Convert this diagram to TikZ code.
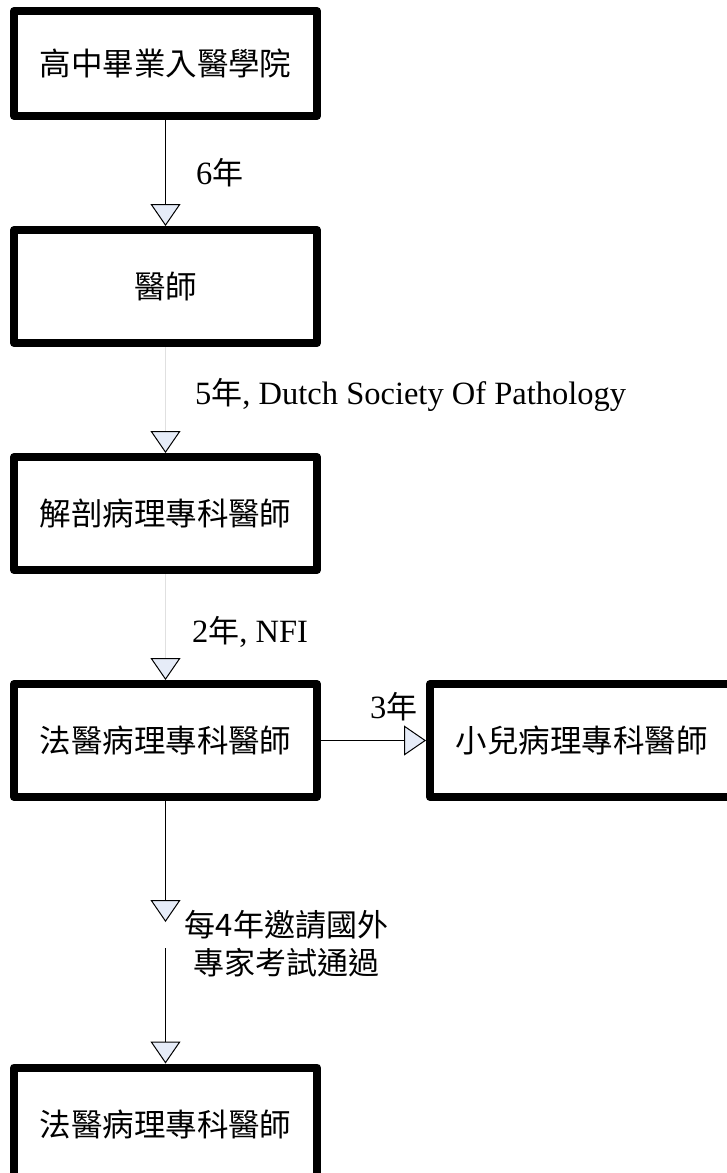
\documentclass[tikz,border=0pt]{standalone}
\usepackage{fontspec}
\setmainfont{Liberation Serif}
\newfontfamily\cjk{Noto Sans CJK TC}
\usetikzlibrary{arrows.meta}
\definecolor{tipblue}{RGB}{230,236,248}

\begin{document}
\begin{tikzpicture}[x=1pt,y=-1pt,
    stage/.style={draw, line width=8pt, line join=round, minimum width=303pt,
      minimum height=113pt, inner sep=0pt, font=\cjk\fontsize{31.5}{36}\selectfont},
    flow/.style={line width=1pt,
      -{Triangle[width=30pt,length=22pt,color=black,fill=tipblue,line width=1pt]}},
    faint/.style={draw=black!12},
    lbl/.style={anchor=west, inner sep=0pt, font=\fontsize{32.5}{38}\selectfont}]
  \useasboundingbox (0,0) rectangle (726,1173);

  % stages
  \node[stage, minimum height=105pt] (school) at (165.5,63.5) {高中畢業入醫學院};
  \node[stage] (doctor) at (165.5,286.5) {醫師};
  \node[stage] (anat) at (165.5,513.5) {解剖病理專科醫師};
  \node[stage] (forensic) at (165.5,740.5) {法醫病理專科醫師};
  \node[stage] (paed) at (581.5,740.5) {小兒病理專科醫師};
  \node[stage] (forensic2) at (165.5,1124) {法醫病理專科醫師};

  % labels
  \node[lbl] (l6) at (196,173) {6{\cjk\fontsize{31}{38}\selectfont 年}};
  \node[lbl] (l5) at (195,395) {5{\cjk\fontsize{31}{38}\selectfont 年}, Dutch Society Of Pathology};
  \node[lbl] (l2) at (192,632) {2{\cjk\fontsize{31}{38}\selectfont 年}, NFI};
  \node[lbl] (l3) at (370,707) {3{\cjk\fontsize{31}{38}\selectfont 年}};
  \node[align=center, inner sep=0pt, font=\cjk\fontsize{31}{38}\selectfont]
    (lexam) at (286.5,944) {每4年邀請國外\\專家考試通過};

  \coordinate (split1) at (165.5,922);
  \coordinate (split2) at (165.5,948);

  % connectors
  \draw[flow] (school) -- (doctor);
  \draw[flow, faint] (doctor) -- (anat);
  \draw[flow, faint] (anat) -- (forensic);
  \draw[flow] (forensic) -- (paed);
  \draw[flow] (forensic) -- (split1);
  \draw[flow] (split2) -- (forensic2);
\end{tikzpicture}
\end{document}
